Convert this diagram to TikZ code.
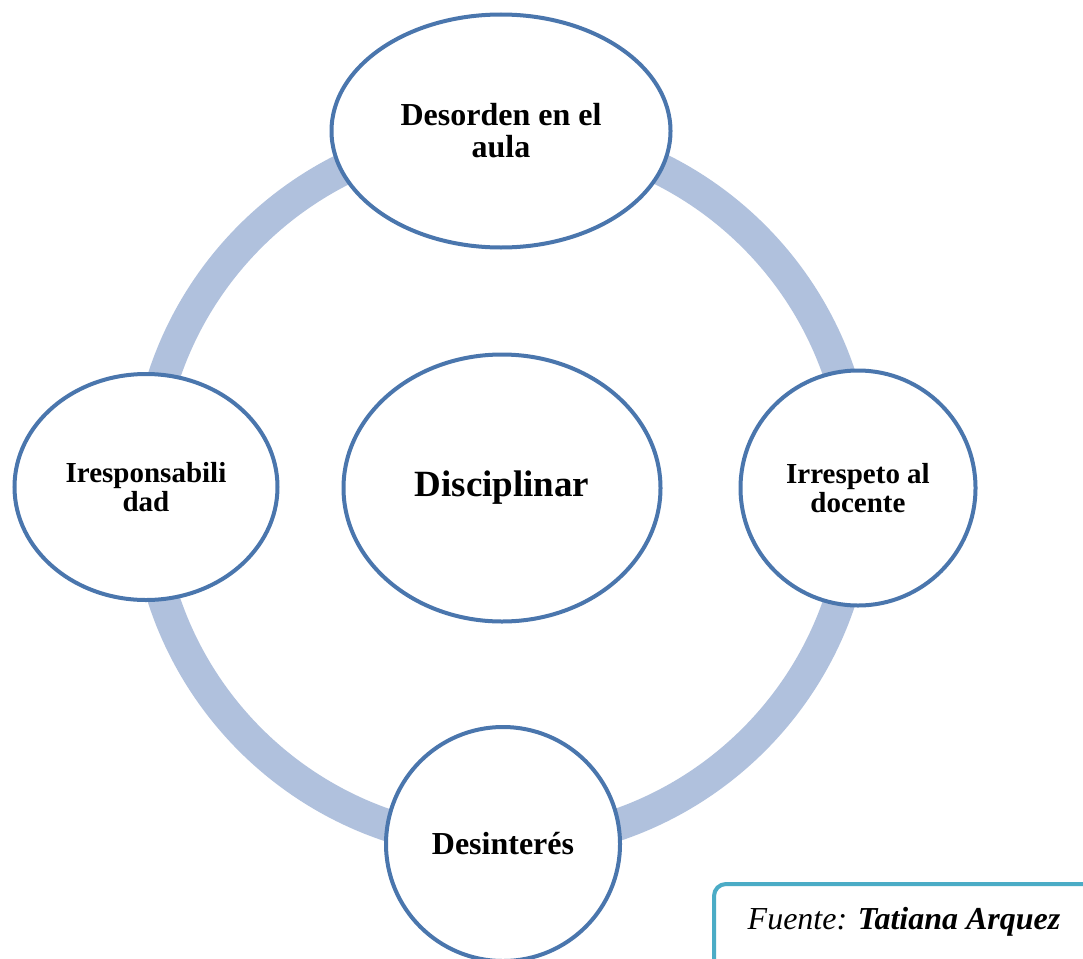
\documentclass[tikz,border=0pt]{standalone}
\usepackage{fontspec}
\setmainfont{Liberation Serif}
\usetikzlibrary{shapes.geometric}
\definecolor{ringblue}{RGB}{176,193,221}
\definecolor{edgeblue}{RGB}{74,118,173}
\definecolor{fuentecyan}{RGB}{75,172,198}
\tikzset{
  ringline/.style={draw=ringblue, line width=32pt},
  bubble/.style={ellipse, draw=edgeblue, line width=4pt, fill=white, inner sep=0pt, align=center, font=\bfseries\fontsize{29}{28.5}\selectfont},
  bigtext/.style={font=\bfseries\fontsize{32}{32}\selectfont},
  fuentebox/.style={rectangle, draw=fuentecyan, line width=4pt, rounded corners=12pt, fill=white, anchor=north west, minimum width=420pt, minimum height=120pt},
  fuentetext/.style={anchor=base, inner sep=0pt, font=\fontsize{32}{32}\selectfont}
}
\begin{document}
\begin{tikzpicture}[x=1pt, y=-1pt]
\useasboundingbox (0,0) rectangle (1083,958);
\clip (0,0) rectangle (1083,958);
\fill[white] (0,0) rectangle (1083,958);
\coordinate (c) at (502,488);
\draw[ringline] (c) circle[radius=356pt];
\node[bubble, bigtext, minimum width=339pt, minimum height=233pt] (top) at (501,131) {Desorden en el\\aula};
\node[bubble, minimum width=263pt, minimum height=226pt] (left) at (146,487) {Iresponsabili\\dad};
\node[bubble, minimum width=235pt, minimum height=235pt] (right) at (858,488) {Irrespeto al\\docente};
\node[bubble, bigtext, minimum width=234pt, minimum height=234pt] (bottom) at (503,844) {Desinterés};
\node[bubble, font=\bfseries\fontsize{37}{37}\selectfont, minimum width=317pt, minimum height=267pt] (center) at (502,488) {Disciplinar};
\node[fuentebox] (srcbox) at (712,882) {};
\node[fuentetext] (src) at (904,929) {\itshape Fuente: \textbf{Tatiana Arquez}};
\end{tikzpicture}
\end{document}
